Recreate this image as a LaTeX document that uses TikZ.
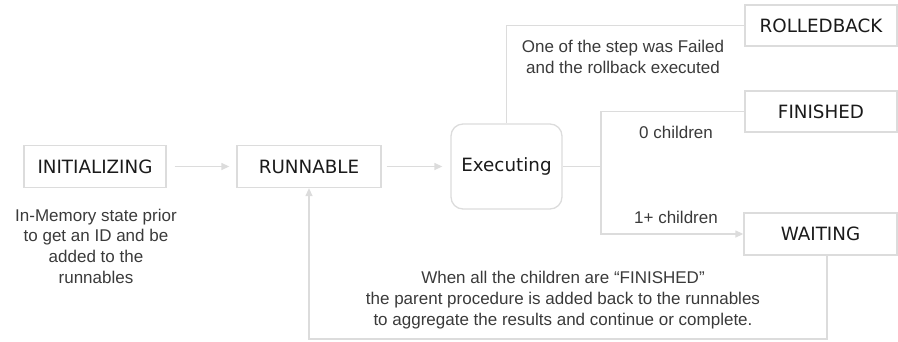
\documentclass[tikz,border=0pt]{standalone}
\usepackage{fontspec}
\setmainfont{Liberation Sans}
\newfontfamily\boxfont{DejaVu Sans}
\usetikzlibrary{arrows.meta}
\definecolor{linegray}{HTML}{DCDCDC}
\definecolor{boxtext}{HTML}{1A1A1A}
\definecolor{notetext}{HTML}{3A3A3A}
\begin{document}
\begin{tikzpicture}[x=1pt,y=-1pt,
  state/.style={draw=linegray, line width=1.3pt, inner sep=0pt, minimum height=42pt,
    font=\boxfont\fontsize{18.3}{20}\selectfont, text=boxtext},
  link/.style={draw=linegray, line width=1.3pt},
  arr/.style={link, -{Triangle[length=8pt,width=7pt]}},
  note/.style={font=\fontsize{17}{20.7}\selectfont, text=notetext, align=center, inner sep=0pt}]
\useasboundingbox (0,0) rectangle (898,341);
\node[state, minimum width=142pt] (init) at (95,166.5) {INITIALIZING};
\node[state, minimum width=144pt] (run) at (309,166.5) {RUNNABLE};
\node[state, minimum width=111pt, minimum height=85pt, rounded corners=12pt] (exec) at (506.5,166.5) {Executing};
\node[state, minimum width=152pt, minimum height=41pt] (rb) at (821,25.5) {ROLLEDBACK};
\node[state, minimum width=152pt, minimum height=41pt] (fin) at (821,111.5) {FINISHED};
\node[state, minimum width=153pt] (wait) at (820.5,234) {WAITING};

\draw[arr, shorten <=8pt, shorten >=7pt] (init) -- (run);
\draw[arr, shorten <=5pt, shorten >=8pt] (run) -- (exec);
\draw[link] (exec.north) |- (rb.west);
\coordinate (j) at (601,166.5);
\draw[link] (exec.east) -- (j);
\draw[link] (fin.west) -| (j);
\draw[arr] (j) |- (wait.west);
\coordinate (wb) at ([xshift=6.5pt]wait.south);
\coordinate (c1) at (827,339);
\coordinate (c2) at (309,339);
\draw[arr] (wb) -- (c1) -- (c2) -- (run.south);

\node[note] (n1) at (96,246) {In-Memory state prior\\to get an ID and be\\added to the\\runnables};
\node[note] (n2) at (623,57) {One of the step was Failed\\and the rollback executed};
\node[note] (n3) at (676,132) {0 children};
\node[note] (n4) at (676,217) {1+ children};
\node[note] (n5) at (563,300) {When all the children are “FINISHED”\\the parent procedure is added back to the runnables\\to aggregate the results and continue or complete.};
\end{tikzpicture}
\end{document}
